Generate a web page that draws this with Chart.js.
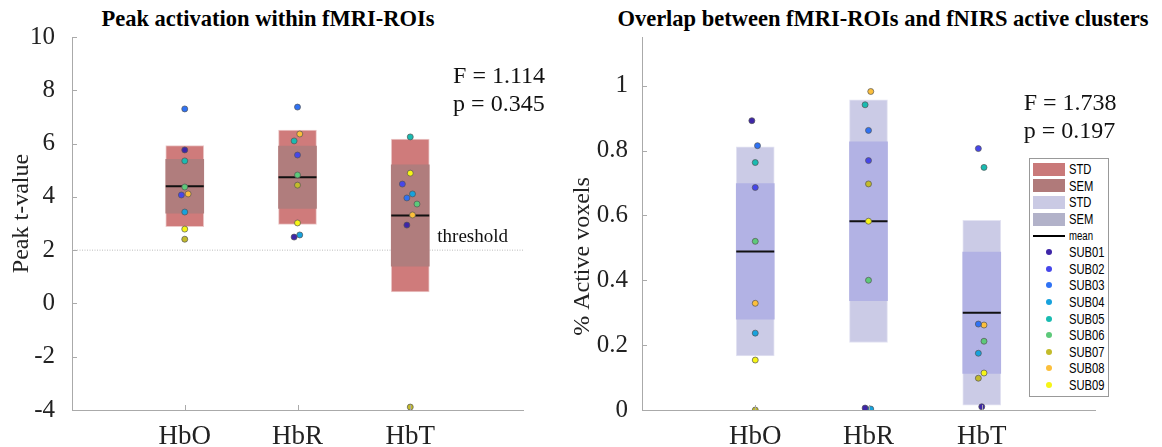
<!DOCTYPE html>
<html>
<head>
<meta charset="utf-8">
<script src="https://cdn.jsdelivr.net/npm/chart.js@4.4.1/dist/chart.umd.min.js"></script>
<style>
  body { margin: 0; background: #fff; width: 1162px; height: 447px; overflow: hidden; position: relative; font-family: "Liberation Serif", serif; }
  .panel { position: absolute; top: 0; }
  .ttl { position: absolute; top: 6px; font-weight: bold; font-size: 22.5px; color: #000; white-space: nowrap; transform: translateX(-50%); }
  #legend { position: absolute; left: 1029px; top: 158px; width: 80px; height: 239px; box-sizing: border-box; border: 1px solid #999; background: #fff; padding-top: 2px; font-family: "Liberation Sans", Arial, sans-serif; font-size: 14px; color: #000; }
  #legend .row { height: 16.6px; display: flex; align-items: center; }
  #legend .sw { width: 32px; height: 13px; margin-left: 3px; margin-right: 4px; flex: none; }
  #legend .ln { width: 32px; height: 2px; margin-left: 3px; margin-right: 4px; background: #000; flex: none; }
  #legend .dot { width: 6px; height: 6px; border-radius: 50%; margin-left: 16px; margin-right: 17px; flex: none; }
  #legend span { display: inline-block; transform: scaleX(0.8); transform-origin: left center; white-space: nowrap; }
</style>
</head>
<body>
<div class="ttl" style="left:268px">Peak activation within fMRI-ROIs</div>
<div class="ttl" style="left:883px">Overlap between fMRI-ROIs and fNIRS active clusters</div>
<div class="panel" style="left:0"><canvas id="peakChart" width="560" height="447"></canvas></div>
<div class="panel" style="left:540px"><canvas id="overlapChart" width="622" height="447"></canvas></div>
<div id="legend"></div>

<script>
// ---- data ----
const categories = ['HbO', 'HbR', 'HbT'];
const subjects = ['SUB01', 'SUB02', 'SUB03', 'SUB04', 'SUB05', 'SUB06', 'SUB07', 'SUB08', 'SUB09'];
const subjectColors = ['#3e26a8', '#4646ea', '#2f72f4', '#17a2dd', '#19bbb1', '#5dc97a', '#c3bb2b', '#fcbf3b', '#f6f516'];

// peak t-value per subject, [HbO, HbR, HbT]
const peakT = [
    [5.76, 2.49, 2.94],
    [4.07, 5.57, 4.48],
    [7.30, 7.37, 3.96],
    [3.43, 2.57, 4.11],
    [5.35, 6.10, 6.25],
    [4.37, 4.82, 3.73],
    [2.41, 4.44, -3.89],
    [4.11, 6.36, 3.32],
    [2.79, 3.02, 4.89]
];
// horizontal jitter of each dot (category units)
const peakJitter = [
    [0, -0.03, -0.03],
    [-0.03, 0, -0.07],
    [0, 0, -0.03],
    [0, 0.02, 0.02],
    [0, -0.03, 0],
    [0, 0, 0.06],
    [0, 0, 0],
    [0.03, 0.02, 0.02],
    [0, 0, 0]
];
const peakMean = [4.40, 4.74, 3.30];
const peakStd = [1.52, 1.77, 2.87];
const peakSem = [1.01, 1.17, 1.90];
const tThreshold = 2;
const peakStats = ['F = 1.114', 'p = 0.345'];

// fraction of active voxels per subject, [HbO, HbR, HbT]
const overlap = [
    [0.892, 0.006, 0.010],
    [0.686, 0.769, 0.806],
    [0.815, 0.862, 0.265],
    [0.237, 0.003, 0.175],
    [0.763, 0.941, 0.748],
    [0.520, 0.400, 0.212],
    [0.000, 0.697, 0.098],
    [0.329, 0.982, 0.262],
    [0.154, 0.582, 0.114]
];
const overlapJitter = [
    [-0.03, -0.03, 0],
    [0, 0, -0.03],
    [0.02, 0, -0.03],
    [0, 0.02, -0.03],
    [0, -0.03, 0.02],
    [0, 0, 0.02],
    [0, 0, -0.03],
    [0, 0.02, 0.02],
    [0, 0, 0.02]
];
const overlapMean = [0.489, 0.582, 0.300];
const overlapStd = [0.322, 0.374, 0.285];
const overlapSem = [0.209, 0.245, 0.187];
const overlapStats = ['F = 1.738', 'p = 0.197'];

const serif = "'Liberation Serif', 'Times New Roman', serif";
Chart.defaults.font.family = serif;
Chart.defaults.color = '#222';

// inward tick marks, text notes and a free-placed y title
const extras = {
    id: 'extras',
    afterDraw(chart, args, opts) {
        const {ctx, chartArea: a, scales: {x, y}} = chart;
        ctx.save();
        ctx.strokeStyle = '#aaa';
        ctx.lineWidth = 1;
        y.ticks.forEach(t => {
            const py = Math.round(y.getPixelForValue(t.value)) + 0.5;
            ctx.beginPath(); ctx.moveTo(a.left, py); ctx.lineTo(a.left + 5, py); ctx.stroke();
        });
        x.ticks.forEach(t => {
            const px = Math.round(x.getPixelForValue(t.value)) + 0.5;
            ctx.beginPath(); ctx.moveTo(px, a.bottom); ctx.lineTo(px, a.bottom - 5); ctx.stroke();
        });
        ctx.fillStyle = '#111';
        ctx.textBaseline = 'middle';
        (opts.notes || []).forEach(n => {
            ctx.font = n.size + 'px ' + serif;
            ctx.fillText(n.text, x.getPixelForValue(n.x), y.getPixelForValue(n.y));
        });
        if (opts.yTitle) {
            ctx.font = '24px ' + serif;
            ctx.fillStyle = '#222';
            ctx.textAlign = 'center';
            ctx.translate(opts.yTitle.left, (a.top + a.bottom) / 2 + opts.yTitle.dy);
            ctx.rotate(-Math.PI / 2);
            ctx.fillText(opts.yTitle.text, 0, 0);
        }
        ctx.restore();
    }
};

function buildPanel(canvasId, p) {
    const datasets = [];
    subjects.forEach((name, s) => {
        datasets.push({
            type: 'scatter',
            label: name,
            data: categories.map((c, i) => ({x: i + 1 + p.jitter[s][i], y: p.values[s][i]})),
            backgroundColor: subjectColors[s],
            borderColor: '#555',
            borderWidth: 0.7,
            pointRadius: 3,
            order: 1
        });
    });
    datasets.push({
        type: 'scatter',
        label: 'mean',
        data: categories.map((c, i) => ({x: i + 1, y: p.mean[i]})),
        pointStyle: 'line',
        pointRadius: 19,
        borderColor: '#111',
        borderWidth: 2,
        order: 2
    });
    datasets.push({
        type: 'bar',
        label: 'SEM',
        data: categories.map((c, i) => ({x: i + 1, y: [p.mean[i] - p.sem[i], p.mean[i] + p.sem[i]]})),
        backgroundColor: p.semColor,
        borderWidth: 0,
        barThickness: 38,
        grouped: false,
        order: 3
    });
    datasets.push({
        type: 'bar',
        label: 'STD',
        data: categories.map((c, i) => ({x: i + 1, y: [p.mean[i] - p.std[i], p.mean[i] + p.std[i]]})),
        backgroundColor: p.stdColor,
        borderColor: p.edgeColor,
        borderWidth: 1,
        borderSkipped: false,
        barThickness: 38,
        grouped: false,
        order: 4
    });
    if (p.threshold !== undefined) {
        datasets.push({
            type: 'line',
            label: 'threshold',
            data: [{x: 0, y: p.threshold}, {x: categories.length + 1, y: p.threshold}],
            borderColor: '#bbb',
            borderWidth: 1,
            borderDash: [1, 1.5],
            pointRadius: 0,
            order: 5
        });
    }

    return new Chart(document.getElementById(canvasId), {
        type: 'bar',
        data: {datasets: datasets},
        options: {
            responsive: false,
            animation: false,
            layout: {padding: {top: 37, right: p.padRight, left: 0, bottom: 0}},
            plugins: {
                legend: {display: false},
                tooltip: {enabled: false},
                extras: {notes: p.notes, yTitle: p.yTitle}
            },
            scales: {
                x: {
                    type: 'linear',
                    min: 0,
                    max: categories.length + 1,
                    offset: false,
                    grid: {display: false, offset: false},
                    border: {display: true, color: '#aaa'},
                    afterBuildTicks: s => { s.ticks = categories.map((c, i) => ({value: i + 1})); },
                    afterFit: s => { s.height = 37; },
                    ticks: {
                        autoSkip: false,
                        maxRotation: 0,
                        padding: 3,
                        color: '#222',
                        font: {family: serif, size: 27},
                        callback: v => categories[v - 1]
                    }
                },
                y: {
                    type: 'linear',
                    min: p.yMin,
                    max: p.yMax,
                    grid: {display: false},
                    border: {display: true, color: '#aaa'},
                    afterBuildTicks: s => { s.ticks = s.ticks.filter(t => t.value <= p.yTop + 1e-9); },
                    afterFit: s => { s.width = p.yWidth; },
                    ticks: {
                        stepSize: p.yStep,
                        padding: p.yPad,
                        color: '#222',
                        font: {family: serif, size: 25},
                        callback: v => String(Math.round(v * 100) / 100)
                    }
                }
            }
        },
        plugins: [extras]
    });
}

buildPanel('peakChart', {
    values: peakT, jitter: peakJitter,
    mean: peakMean, std: peakStd, sem: peakSem,
    stdColor: '#cf7b7b', semColor: '#b07d7d', edgeColor: '#ecc9c9',
    threshold: tThreshold,
    yMin: -4, yMax: 10, yTop: 10, yStep: 2, yWidth: 72, yPad: 9, padRight: 37,
    yTitle: {text: 'Peak t-value', left: 22, dy: -10},
    notes: [
        {text: peakStats[0], x: 3.38, y: 8.5, size: 24},
        {text: peakStats[1], x: 3.38, y: 7.47, size: 24},
        {text: 'threshold', x: 3.24, y: 2.5, size: 19}
    ]
});

buildPanel('overlapChart', {
    values: overlap, jitter: overlapJitter,
    mean: overlapMean, std: overlapStd, sem: overlapSem,
    stdColor: '#cbcbe6', semColor: '#b2b2e4', edgeColor: '#e3e3f2',
    yMin: 0, yMax: 1.15, yTop: 1, yStep: 0.2, yWidth: 102, yPad: 6, padRight: 67,
    yTitle: {text: '% Active voxels', left: 43, dy: 33},
    notes: [
        {text: overlapStats[0], x: 3.37, y: 0.945, size: 24},
        {text: overlapStats[1], x: 3.37, y: 0.858, size: 24}
    ]
});

// legend box (built from the same names and colours)
const legendItems = [
    {kind: 'sw', color: '#c97979', label: 'STD'},
    {kind: 'sw', color: '#b07a7a', label: 'SEM'},
    {kind: 'sw', color: '#cacae4', label: 'STD'},
    {kind: 'sw', color: '#b2b2c9', label: 'SEM'},
    {kind: 'ln', color: '#000', label: 'mean'}
].concat(subjects.map((s, i) => ({kind: 'dot', color: subjectColors[i], label: s})));

const legendEl = document.getElementById('legend');
legendItems.forEach(item => {
    const row = document.createElement('div');
    row.className = 'row';
    const mark = document.createElement('div');
    mark.className = item.kind;
    mark.style.background = item.color;
    const txt = document.createElement('span');
    txt.textContent = item.label;
    if (item.kind === 'ln') txt.style.fontSize = '12px';
    row.appendChild(mark);
    row.appendChild(txt);
    legendEl.appendChild(row);
});
</script>
</body>
</html>
